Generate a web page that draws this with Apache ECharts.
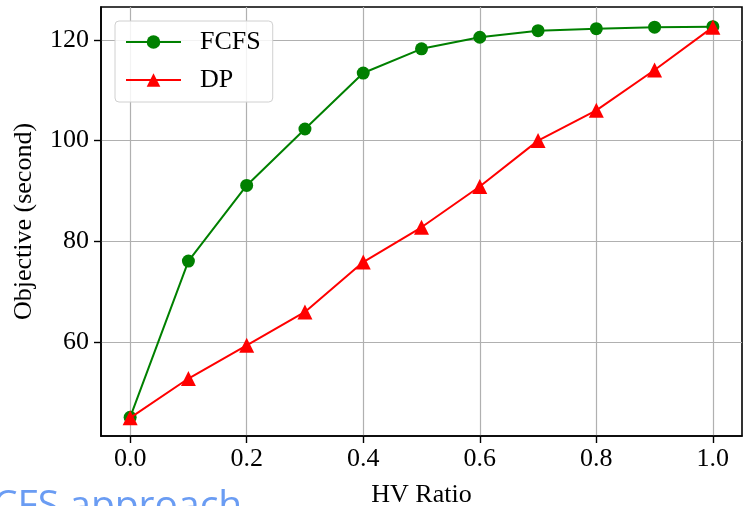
<!DOCTYPE html>
<html>
<head>
<meta charset="utf-8">
<script src="https://cdn.jsdelivr.net/npm/echarts@6/dist/echarts.min.js"></script>
<style>
  html, body { margin: 0; padding: 0; background: #fff; }
  #chart { width: 748px; height: 506px; }
</style>
</head>
<body>
<div id="chart"></div>
<script>
// HV 比例（x 轴）
const hvRatio = [0.0, 0.1, 0.2, 0.3, 0.4, 0.5, 0.6, 0.7, 0.8, 0.9, 1.0];
// 两种方法的目标值（秒）
const fcfs = [45.1, 76.1, 91.1, 102.3, 113.4, 118.2, 120.5, 121.8, 122.2, 122.5, 122.6];
const dp   = [45.0, 52.8, 59.4, 66.0, 75.9, 82.8, 90.9, 100.0, 106.0, 114.0, 122.5];
// 刻度
const xTicks = [0.0, 0.2, 0.4, 0.6, 0.8, 1.0];
const yTicks = [60, 80, 100, 120];

const SERIF = '"Liberation Serif", "DejaVu Serif", serif';
const GRID_COLOR = '#b0b0b0';

const chart = echarts.init(document.getElementById('chart'));

const pairs = vals => hvRatio.map((x, i) => [x, vals[i]]);

chart.setOption({
  animation: false,
  backgroundColor: '#fff',
  grid: {
    left: 101, right: 6, top: 7, bottom: 70,
    outerBoundsMode: 'none',
    containLabel: false,
    show: true, borderColor: '#000', borderWidth: 1.6,
    backgroundColor: 'transparent',
  },
  legend: {
    left: 115, top: 21,
    orient: 'vertical',
    itemWidth: 55, itemHeight: 17,
    itemGap: 12,
    padding: [8, 12, 9, 10],
    backgroundColor: 'rgba(255,255,255,0.85)',
    borderColor: '#d0d0d0', borderWidth: 1, borderRadius: 4,
    textStyle: { fontFamily: SERIF, fontSize: 26, color: '#000', lineHeight: 26, padding: [0, 0, 0, 14] },
    data: ['FCFS', 'DP'],
  },
  xAxis: {
    type: 'value',
    min: -0.05, max: 1.05,
    name: 'HV Ratio',
    nameLocation: 'middle',
    nameGap: 46,
    nameTextStyle: { fontFamily: SERIF, fontSize: 26, color: '#000' },
    axisLine: { show: true, onZero: false, lineStyle: { color: '#000', width: 1.6 } },
    axisTick: { show: true, length: 7, lineStyle: { color: '#000', width: 1.4 }, customValues: xTicks },
    axisLabel: {
      fontFamily: SERIF, fontSize: 26, color: '#000', margin: 10,
      customValues: xTicks,
      formatter: v => v.toFixed(1),
    },
    splitLine: { show: true, lineStyle: { color: GRID_COLOR, width: 1.2 } },
  },
  yAxis: {
    type: 'value',
    min: 41.4, max: 126.5,
    name: 'Objective (second)',
    nameLocation: 'middle',
    nameGap: 64,
    nameTextStyle: { fontFamily: SERIF, fontSize: 26, color: '#000' },
    axisLine: { show: true, onZero: false, lineStyle: { color: '#000', width: 1.6 } },
    axisTick: { show: true, length: 7, lineStyle: { color: '#000', width: 1.4 }, customValues: yTicks },
    axisLabel: {
      fontFamily: SERIF, fontSize: 26, color: '#000', margin: 12,
      customValues: yTicks,
      formatter: v => String(Math.round(v)),
    },
    splitLine: { show: true, lineStyle: { color: GRID_COLOR, width: 1.2 } },
  },
  series: [
    {
      name: 'FCFS', type: 'line',
      data: pairs(fcfs),
      symbol: 'circle', symbolSize: 13,
      itemStyle: { color: '#008000' },
      lineStyle: { color: '#008000', width: 2 },
      z: 2,
    },
    {
      name: 'DP', type: 'line',
      data: pairs(dp),
      symbol: 'triangle', symbolSize: 15,
      itemStyle: { color: '#ff0000' },
      lineStyle: { color: '#ff0000', width: 2 },
      z: 3,
    },
  ],
  graphic: [
    {
      type: 'text',
      left: -7, top: 487,
      style: {
        text: 'CFS approach',
        fontFamily: '"Open Sans", "Noto Sans", sans-serif',
        fontSize: 39,
        fill: '#6a9cf3',
      },
    },
  ],
});
</script>
</body>
</html>
